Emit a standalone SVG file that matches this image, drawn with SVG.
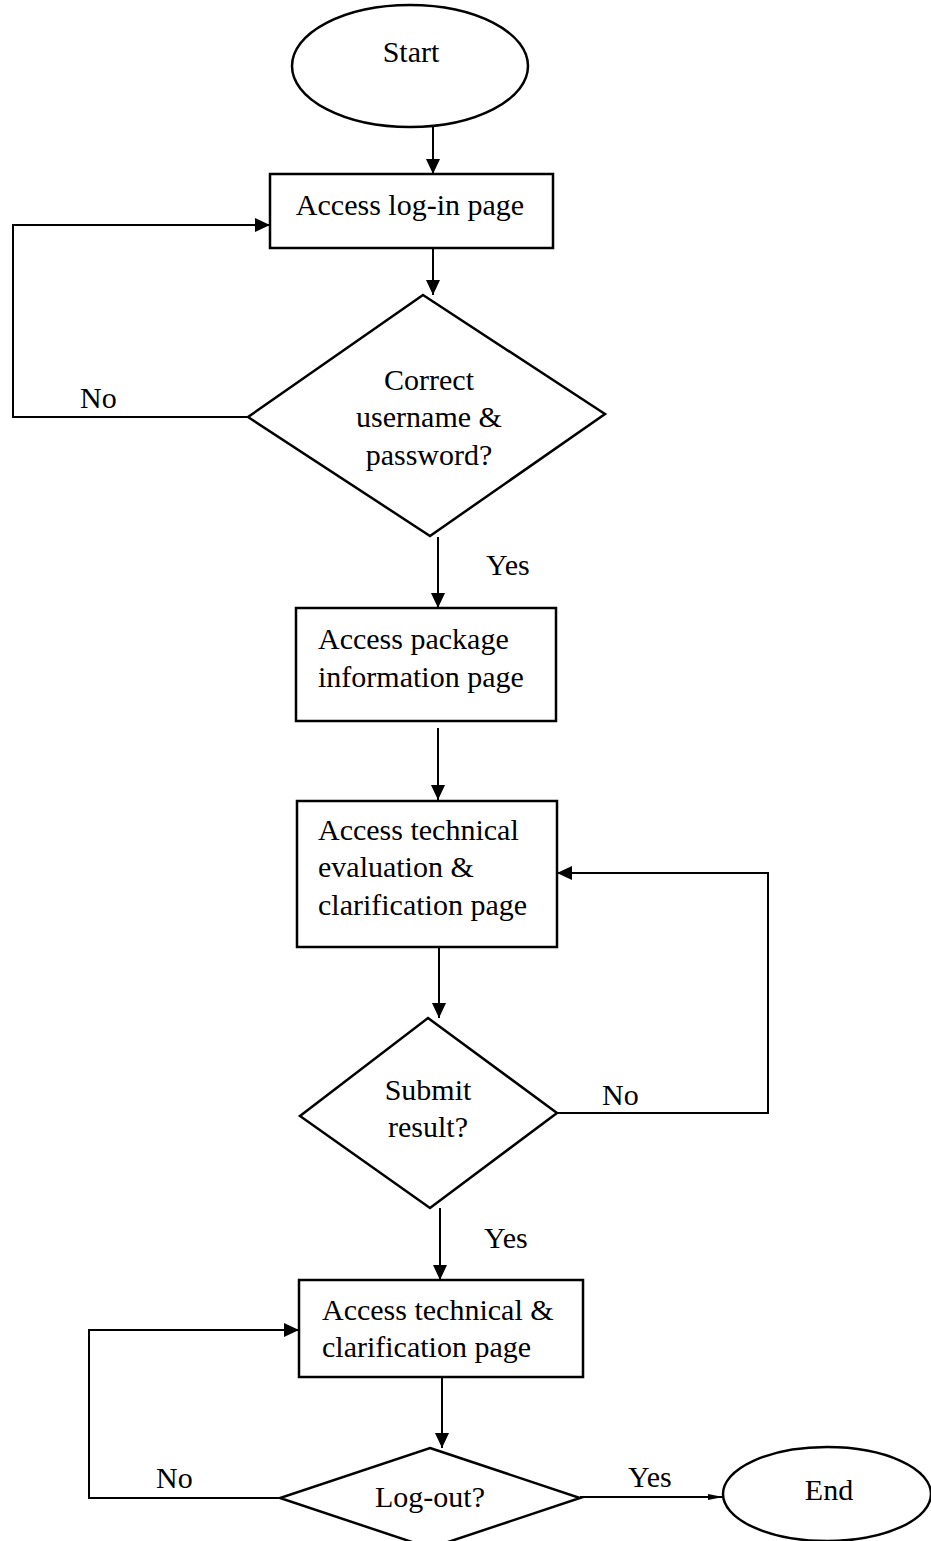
<svg xmlns="http://www.w3.org/2000/svg" width="931" height="1541" viewBox="0 0 931 1541">
  <style>
    .shape { fill: #fff; stroke: #000; stroke-width: 2.5; }
    .edge { fill: none; stroke: #000; stroke-width: 2; }
    text { font-family: "Liberation Serif", "Times New Roman", serif; font-size: 30px; fill: #000; }
    .c { text-anchor: middle; }
  </style>
  <defs>
    <marker id="arrow" markerUnits="userSpaceOnUse" markerWidth="16" markerHeight="14" refX="15" refY="7" orient="auto">
      <path d="M0,0 L15,7 L0,14 z" fill="#000"/>
    </marker>
    <marker id="arrow-thin" markerUnits="userSpaceOnUse" markerWidth="16" markerHeight="8" refX="15" refY="4" orient="auto">
      <path d="M0,1 L15,4 L0,7 z" fill="#000"/>
    </marker>
  </defs>

  <rect width="931" height="1541" fill="#fff"/>

  <!-- connectors -->
  <g id="connectors">
    <path class="edge" d="M433,127 V174" marker-end="url(#arrow)"/>
    <path class="edge" d="M433,248 V295" marker-end="url(#arrow)"/>
    <path class="edge" d="M248,417 H13 V225 H270" marker-end="url(#arrow)"/>
    <path class="edge" d="M438,537 V608" marker-end="url(#arrow)"/>
    <path class="edge" d="M438,728 V800" marker-end="url(#arrow)"/>
    <path class="edge" d="M439,947 V1018" marker-end="url(#arrow)"/>
    <path class="edge" d="M557,1113 H768 V873 H557" marker-end="url(#arrow)"/>
    <path class="edge" d="M440,1208 V1280" marker-end="url(#arrow)"/>
    <path class="edge" d="M442,1377 V1448" marker-end="url(#arrow)"/>
    <path class="edge" d="M280,1498 H89 V1330 H299" marker-end="url(#arrow)"/>
    <path class="edge" d="M580,1497 H723" marker-end="url(#arrow-thin)"/>
    <text x="80" y="408">No</text>
    <text x="486" y="575">Yes</text>
    <text x="602" y="1105">No</text>
    <text x="484" y="1248">Yes</text>
    <text x="156" y="1488">No</text>
    <text x="628" y="1487">Yes</text>
  </g>

  <!-- nodes -->
  <g id="start">
    <ellipse class="shape" cx="410" cy="66" rx="118" ry="61"/>
    <text class="c" x="411" y="62">Start</text>
  </g>

  <g id="login">
    <rect class="shape" x="270" y="174" width="283" height="74"/>
    <text class="c" x="410" y="215">Access log-in page</text>
  </g>

  <g id="check-credentials">
    <polygon class="shape" points="423,295 605,414 430,536 248,417"/>
    <text class="c" x="429" y="390">Correct</text>
    <text class="c" x="429" y="427">username &amp;</text>
    <text class="c" x="429" y="465">password?</text>
  </g>

  <g id="package-info">
    <rect class="shape" x="296" y="608" width="260" height="113"/>
    <text x="318" y="649">Access package</text>
    <text x="318" y="687">information page</text>
  </g>

  <g id="technical-evaluation">
    <rect class="shape" x="297" y="801" width="260" height="146"/>
    <text x="318" y="840">Access technical</text>
    <text x="318" y="877">evaluation &amp;</text>
    <text x="318" y="915">clarification page</text>
  </g>

  <g id="submit-result">
    <polygon class="shape" points="428,1018 557,1113 430,1208 300,1116"/>
    <text class="c" x="428" y="1100">Submit</text>
    <text class="c" x="428" y="1137">result?</text>
  </g>

  <g id="technical-clarification">
    <rect class="shape" x="299" y="1280" width="284" height="97"/>
    <text x="322" y="1320">Access technical &amp;</text>
    <text x="322" y="1357">clarification page</text>
  </g>

  <g id="logout">
    <polygon class="shape" points="430,1448 580,1498 430,1548 280,1498"/>
    <text class="c" x="430" y="1507">Log-out?</text>
  </g>

  <g id="end">
    <ellipse class="shape" cx="827" cy="1494" rx="104" ry="47"/>
    <text class="c" x="829" y="1500">End</text>
  </g>
</svg>
